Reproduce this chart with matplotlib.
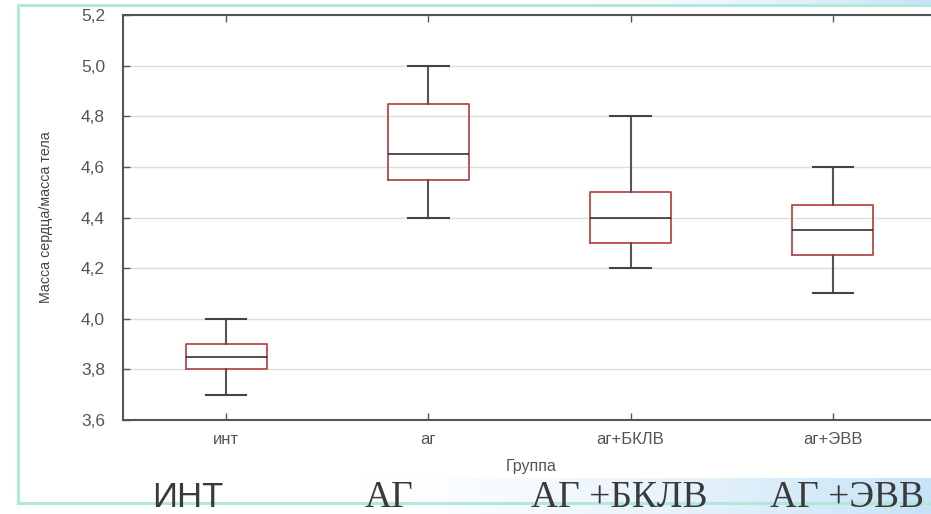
import matplotlib

matplotlib.use("Agg")
import matplotlib.pyplot as plt
import numpy as np
from matplotlib.ticker import FuncFormatter

groups = ["инт", "аг", "аг+БКЛВ", "аг+ЭВВ"]
big_labels = ["ИНТ", "АГ", "АГ +БКЛВ", "АГ +ЭВВ"]
whisker_lo = [3.7, 4.4, 4.2, 4.1]
q1 = [3.8, 4.55, 4.3, 4.25]
medians = [3.85, 4.65, 4.4, 4.35]
q3 = [3.9, 4.85, 4.5, 4.45]
whisker_hi = [4.0, 5.0, 4.8, 4.6]
yticks = [3.6, 3.8, 4.0, 4.2, 4.4, 4.6, 4.8, 5.0, 5.2]

W, H = 931, 514
SANS = ["Liberation Sans", "DejaVu Sans"]
fig = plt.figure(figsize=(W / 100, H / 100), dpi=100)

# decorative slide background (pixel coordinates)
bg = fig.add_axes([0, 0, 1, 1], zorder=-5)
bg.set_xlim(0, W)
bg.set_ylim(H, 0)
bg.axis("off")
grad = np.linspace(0, 1, 256) ** 1.4
white = np.array([1.0, 1.0, 1.0])
blue = np.array([0.78, 0.89, 0.97])
band = (white[None, :] * (1 - grad[:, None]) + blue[None, :] * grad[:, None])[None, :, :]
bg.imshow(band, extent=(360, W, H, 478), aspect="auto", interpolation="bilinear")
bg.imshow(band, extent=(560, W, 4, 0), aspect="auto", interpolation="bilinear")
teal = "#b2e8d9"
bg.plot([18, W], [5, 5], color=teal, lw=2.2)
bg.plot([18, 18], [5, 503], color=teal, lw=2.2)
bg.plot([18, W], [503, 503], color=teal, lw=2.2)

ax = fig.add_axes([123 / W, (H - 420) / H, (940 - 123) / W, 405 / H])
stats = [
    dict(whislo=a, q1=b, med=c, q3=d, whishi=e, fliers=[], label=g)
    for a, b, c, d, e, g in zip(whisker_lo, q1, medians, q3, whisker_hi, groups)
]
ax.bxp(
    stats,
    positions=range(1, len(groups) + 1),
    widths=0.4,
    capwidths=0.2,
    showfliers=False,
    boxprops=dict(color="#b54a4a", lw=1.3),
    medianprops=dict(color="#222222", lw=1.1),
    whiskerprops=dict(color="#555555", lw=1.5),
    capprops=dict(color="#444444", lw=1.5),
)
ax.set_xlim(0.49, 4.53)
ax.set_ylim(3.6, 5.2)
ax.set_yticks(yticks)
ax.yaxis.set_major_formatter(FuncFormatter(lambda v, p: f"{v:.1f}".replace(".", ",")))
ax.grid(axis="y", color="#dddddd", lw=1)
ax.set_axisbelow(True)
for s in ax.spines.values():
    s.set_color("#555555")
    s.set_linewidth(1.5)
ax.tick_params(direction="in", length=5, width=1, color="#555555",
               top=True, right=True, labelcolor="#555555")
ax.tick_params(axis="x", pad=9, labelsize=12)
ax.tick_params(axis="y", pad=13, labelsize=12.5)
for lab in ax.get_xticklabels() + ax.get_yticklabels():
    lab.set_family(SANS)
ax.set_xlabel("Группа", fontsize=11.5, color="#555555", labelpad=8, family=SANS)
ax.set_ylabel("Масса сердца/масса тела", fontsize=10.3, color="#444444",
              family=["Liberation Sans Narrow", "Liberation Sans"], labelpad=20)

label_x = [188, 389, 619, 847]
for i, (t, x) in enumerate(zip(big_labels, label_x)):
    if i == 0:
        fam, size = ["Liberation Sans Narrow", "Liberation Sans"], 25
    else:
        fam, size = ["Liberation Serif", "DejaVu Serif"], 27
    fig.text(x / W, 7 / H, t, ha="center", va="baseline", fontsize=size,
             color="#3a3a3a", family=fam)

fig.savefig("out.png", dpi=100)
